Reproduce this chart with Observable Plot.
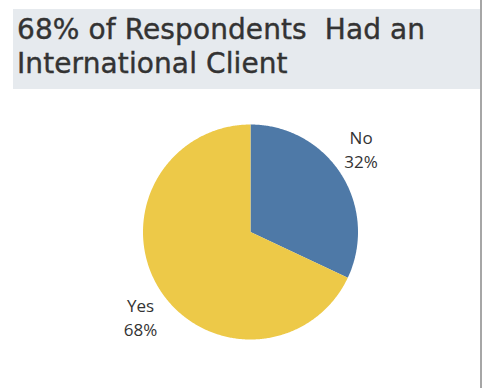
<!DOCTYPE html>
<html><head><meta charset="utf-8">
<script src="https://cdn.jsdelivr.net/npm/d3@7"></script>
<script src="https://cdn.jsdelivr.net/npm/@observablehq/plot@0.6"></script>
<style>
body{margin:0;background:#fff;width:483px;height:388px;overflow:hidden;position:relative;font-family:"Open Sans",sans-serif}
#title{position:absolute;left:13px;top:9px;width:467px;height:80px;background:#e6eaee;box-sizing:border-box;padding:4px 0 0 4px;
font-family:"DejaVu Sans",sans-serif;font-size:28px;line-height:34px;color:#333;-webkit-text-stroke:0.4px #333;white-space:nowrap;letter-spacing:0.1px}
#edge{position:absolute;left:480px;top:0;width:2px;height:388px;background:#a6a6a6}
#chart{position:absolute;left:0;top:89px}
</style></head><body>
<div id="title">68% of Respondents&nbsp; Had an<br>International Client</div>
<div id="edge"></div>
<div id="chart"></div>
<script>
const categories = ["No", "Yes"];
const values = [32, 68];
const colors = ["#4e79a7", "#edc948"];
const labels = ["No\n32%", "Yes\n68%"];

const total = d3.sum(values);
const polys = [];
const labelPts = [];
const labelShift = [-0.082, -0.089];
let start = 0;
categories.forEach((c, i) => {
  const a0 = start / total * 2 * Math.PI;
  const a1 = (start + values[i]) / total * 2 * Math.PI;
  const n = Math.max(2, Math.ceil((a1 - a0) / 0.01));
  polys.push({cat: c, x: 0, y: 0});
  for (let k = 0; k <= n; k++) {
    const a = a0 + (a1 - a0) * k / n;
    polys.push({cat: c, x: Math.sin(a), y: Math.cos(a)});
  }
  polys.push({cat: c, x: 0, y: 0});
  const am = (a0 + a1) / 2 + labelShift[i];
  labelPts.push({label: labels[i], x: 1.29 * Math.sin(am), y: 1.29 * Math.cos(am)});
  start += values[i];
});

const chart = Plot.plot({
  width: 483,
  height: 299,
  margin: 0,
  x: {domain: [-1, 1], range: [142.5, 357.5], axis: null},
  y: {domain: [-1, 1], range: [250, 35], axis: null},
  color: {domain: categories, range: colors},
  marks: [
    Plot.line(polys, {x: "x", y: "y", z: "cat", fill: "cat", stroke: "none", curve: "linear"}),
    Plot.text(labelPts, {x: "x", y: "y", text: "label", fontSize: 17, fill: "#333", lineHeight: 1.4, fontFamily: "Open Sans"})
  ]
});
document.getElementById("chart").appendChild(chart);
</script>
</body></html>
